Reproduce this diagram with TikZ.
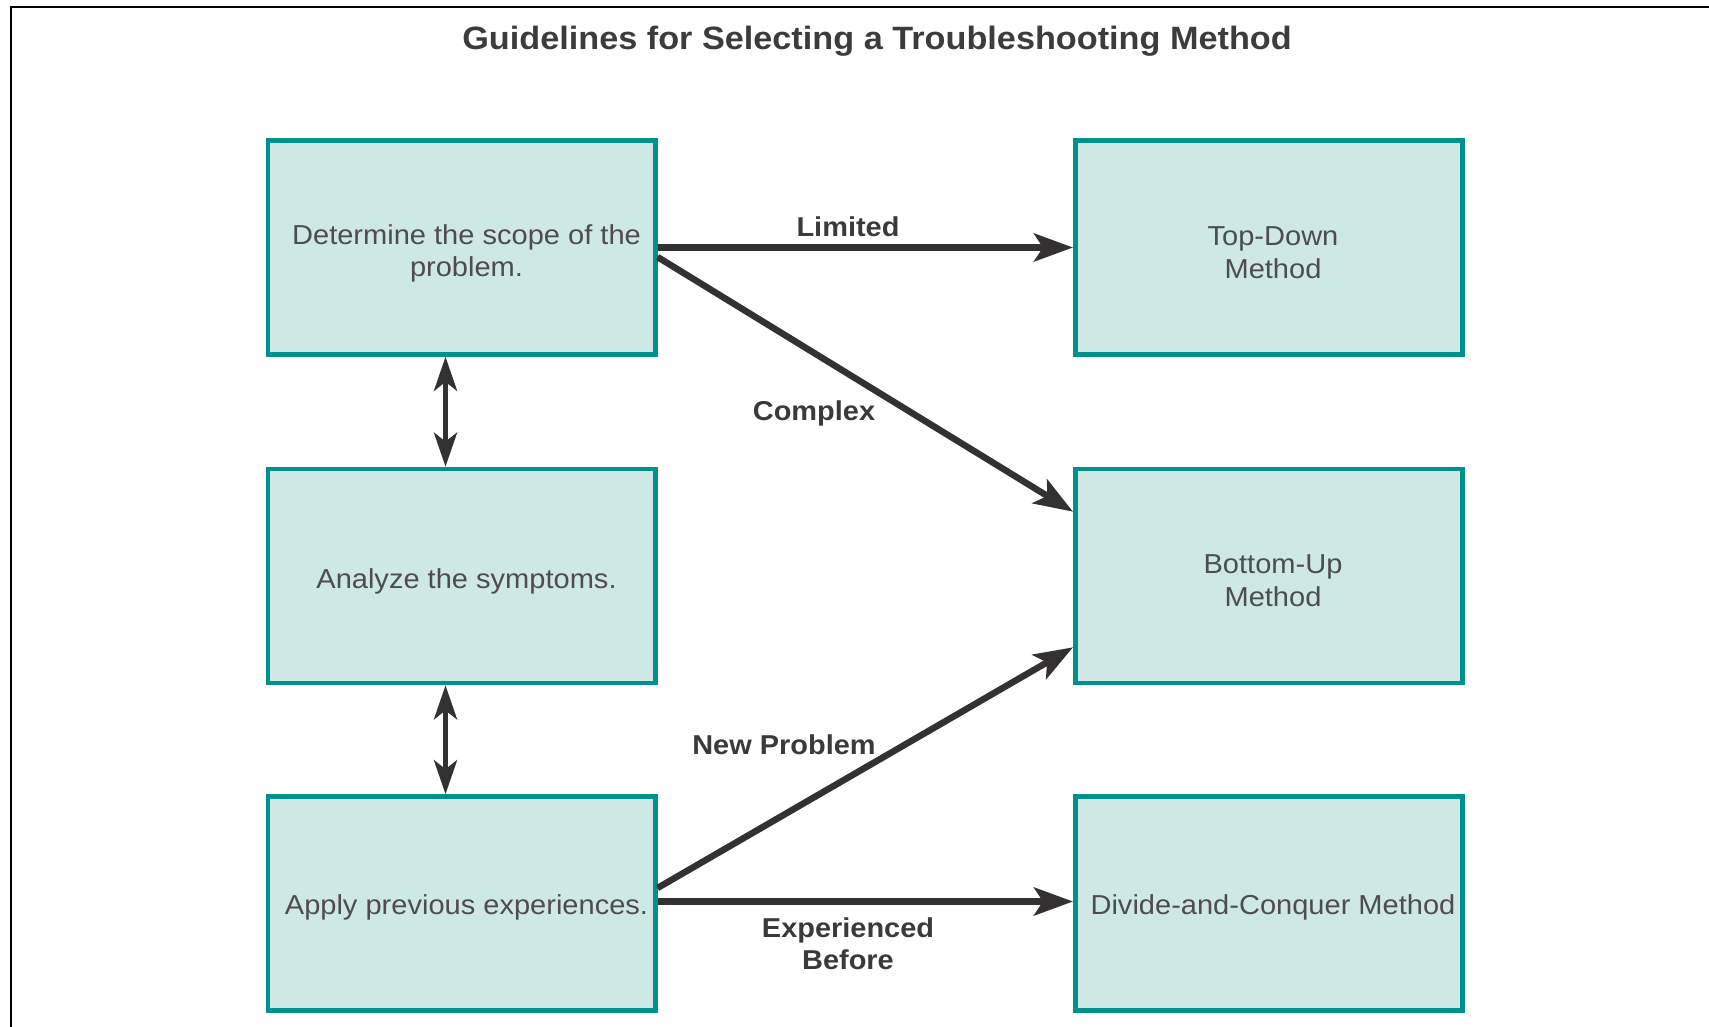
\documentclass[tikz,border=0pt]{standalone}
\usepackage{fontspec}
\setmainfont{Liberation Sans}[FakeStretch=1.06]
\usetikzlibrary{arrows.meta,calc}
\definecolor{boxline}{RGB}{0,145,138}
\definecolor{boxfill}{RGB}{206,232,230}
\definecolor{arrowc}{RGB}{52,49,51}
\definecolor{boxtext}{RGB}{77,77,77}
\definecolor{lbltext}{RGB}{58,58,58}
\definecolor{titletext}{RGB}{60,60,60}
\begin{document}
\begin{tikzpicture}[x=1pt,y=-1pt,
  stepbox/.style={draw=boxline, fill=boxfill, line width=4.6pt,
    minimum width=387.4pt, minimum height=214pt, inner sep=0pt},
  steptext/.style={inner sep=0pt, align=center, text=boxtext,
    font=\fontsize{27.4}{32.7}\selectfont},
  conn/.style={draw=arrowc, line width=6.5pt,
    -{Stealth[length=39pt,width=28pt,inset=9pt]}},
  link/.style={draw=arrowc, line width=5.5pt,
    {Stealth[length=34pt,width=23pt,inset=9pt]}-{Stealth[length=34pt,width=23pt,inset=9pt]}},
  lbl/.style={text=lbltext, inner sep=0pt, align=center,
    font=\bfseries\fontsize{27.3}{31.5}\selectfont}]
\useasboundingbox (0,0) rectangle (1709,1027);
% outer frame (left and top edges)
\draw[line width=2.2pt, black] (11,1030) -- (11,7) -- (1712,7);

% title
\node[text=titletext, inner sep=0pt, anchor=base,
  font=\bfseries\fontsize{32.3}{36}\selectfont] (title) at (877,50) {Guidelines for Selecting a Troubleshooting Method};

% steps (left) and methods (right)
\node[stepbox] (scope)    at (461.5,247.5) {};
\node[stepbox] (symptoms) at (461.5,576)   {};
\node[stepbox] (apply)    at (461.5,903.5) {};
\node[stepbox] (topdown)  at (1269,247.5)  {};
\node[stepbox] (bottomup) at (1269,576)    {};
\node[stepbox] (divide)   at (1269,903.5)  {};

\node[steptext] (scopetext)    at ([shift={(5pt,-6pt)}]scope.center)    {Determine the scope of the\\problem.};
\node[steptext] (symptomstext) at ([shift={(5pt,-5pt)}]symptoms.center) {Analyze the symptoms.};
\node[steptext] (applytext)    at ([shift={(5pt,-4pt)}]apply.center)    {Apply previous experiences.};
\node[steptext] (topdowntext)  at ([shift={(4pt,-5pt)}]topdown.center)  {Top-Down\\Method};
\node[steptext] (bottomuptext) at ([shift={(4pt,-5pt)}]bottomup.center) {Bottom-Up\\Method};
\node[steptext] (dividetext)   at ([shift={(4pt,-4pt)}]divide.center)   {Divide-and-Conquer Method};

% links between the steps
\draw[link] ([xshift=-16pt]scope.south) -- ([xshift=-16pt]symptoms.north);
\draw[link] ([xshift=-16pt]symptoms.south) -- ([xshift=-16pt]apply.north);

% decisions
\draw[conn] (scope.east) -- (topdown.west);
\draw[conn] ([yshift=-9.5pt]scope.east) -- ([yshift=-45pt]bottomup.north west);
\draw[conn] ([yshift=15.5pt]apply.east) -- ([yshift=38pt]bottomup.south west);
\draw[conn] ([yshift=2pt]apply.east) -- ([yshift=2pt]divide.west);

% decision labels
\node[lbl, anchor=base] (limited) at (848,237) {Limited};
\node[lbl, anchor=base] (complex) at (814,420) {Complex};
\node[lbl, anchor=base] (newprob) at (784,754) {New Problem};
\node[lbl, anchor=base] (experienced) at (848,969) {Experienced\\Before};
\end{tikzpicture}
\end{document}
